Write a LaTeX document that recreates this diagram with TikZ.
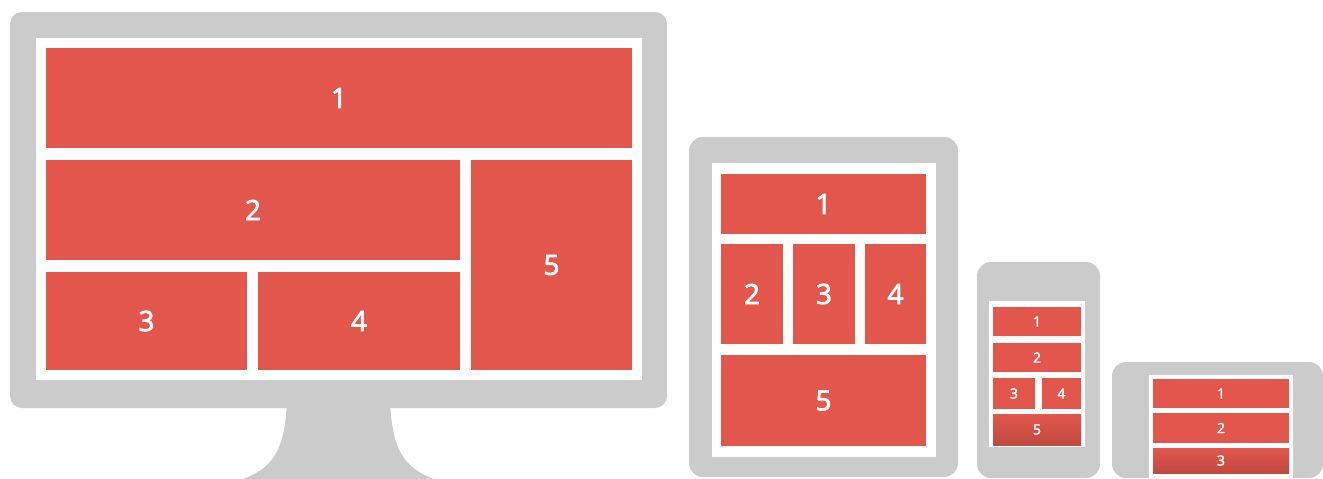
\documentclass[tikz,border=0pt]{standalone}
\usepackage{fontspec}
\setmainfont{Open Sans}
\newfontfamily\digitfont[FakeBold=2.5]{Open Sans}
\usepackage{tikz}
\usetikzlibrary{positioning}

\definecolor{casegray}{HTML}{CBCBCB}
\definecolor{blockred}{HTML}{E2564B}

\begin{document}
\begin{tikzpicture}[
    x=1pt, y=-1pt,
    device/.style={fill=casegray, rounded corners=12pt},
    screen/.style={fill=white},
    block/.style={rectangle, fill=blockred, text=white, inner sep=0pt, outer sep=0pt, anchor=north west},
    big/.style={block, font=\digitfont\fontsize{28}{30}\selectfont},
    small/.style={block, font=\digitfont\fontsize{14}{16}\selectfont},
    fadeblock/.style={top color=blockred, middle color=blockred, bottom color=blockred!85!black}
]
\useasboundingbox (0,0) rectangle (1323,479);

% Desktop monitor
\fill[casegray] (287,400) .. controls (285,452) and (272,468) .. (243,479)
    -- (434,479) .. controls (405,468) and (392,452) .. (390,400) -- cycle;
\fill[device] (10,12) rectangle (667,408);
\fill[screen] (36,38) rectangle (642,380);
\node[big, minimum width=586pt, minimum height=100pt] (m1) at (46,48) {1};
\node[big, minimum width=414pt, minimum height=100pt, below right=12pt and 0pt of m1.south west] (m2) {2};
\node[big, minimum width=161pt, minimum height=210pt, right=11pt of m2.north east, anchor=north west] (m5) {5};
\node[big, minimum width=201pt, minimum height=98pt, below right=12pt and 0pt of m2.south west] (m3) {3};
\node[big, minimum width=202pt, minimum height=98pt, right=11pt of m3.north east, anchor=north west] (m4) {4};

% Tablet
\fill[device, rounded corners=14pt] (689,137) rectangle (958,477);
\fill[screen] (712,163) rectangle (936,457);
\node[big, minimum width=205pt, minimum height=60pt] (t1) at (721,174) {1};
\node[big, minimum width=62pt, minimum height=100pt, below right=10pt and 0pt of t1.south west] (t2) {2};
\node[big, minimum width=62pt, minimum height=100pt, right=10pt of t2.north east, anchor=north west] (t3) {3};
\node[big, minimum width=61pt, minimum height=100pt, right=10pt of t3.north east, anchor=north west] (t4) {4};
\node[big, minimum width=205pt, minimum height=91pt, below right=11pt and 0pt of t2.south west] (t5) {5};

% Phone (portrait)
\fill[device, rounded corners=14pt] (977,262) rectangle (1100,478);
\fill[screen] (989,301) rectangle (1085,447);
\node[small, minimum width=88pt, minimum height=29pt] (p1) at (993,307) {1};
\node[small, minimum width=88pt, minimum height=29pt, below right=7pt and 0pt of p1.south west] (p2) {2};
\node[small, minimum width=42pt, minimum height=31pt, below right=6pt and 0pt of p2.south west] (p3) {3};
\node[small, minimum width=39pt, minimum height=31pt, right=7pt of p3.north east, anchor=north west] (p4) {4};
\node[small, fadeblock, minimum width=88pt, minimum height=31pt, below right=5pt and 0pt of p3.south west] (p5) {5};

% Phone (landscape)
\fill[device, rounded corners=14pt] (1112,362) rectangle (1323,478);
\fill[screen] (1149,375) rectangle (1293,479);
\node[small, minimum width=136pt, minimum height=29pt] (l1) at (1153,379) {1};
\node[small, minimum width=136pt, minimum height=30pt, below right=5pt and 0pt of l1.south west] (l2) {2};
\node[small, fadeblock, minimum width=136pt, minimum height=25pt, below right=5pt and 0pt of l2.south west] (l3) {3};

\end{tikzpicture}
\end{document}
